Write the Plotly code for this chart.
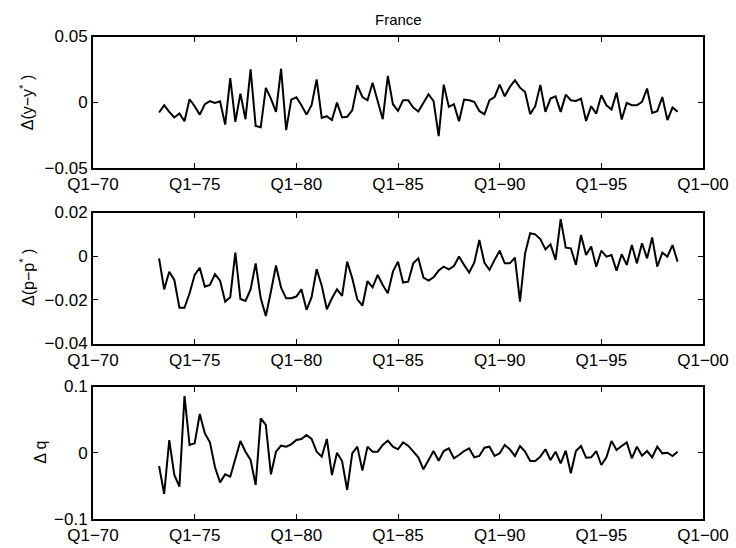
import pandas as pd
import plotly.graph_objects as go

# Quarterly growth differentials, France vs. foreign aggregate, 1973Q2-1998Q4
START_QUARTER = "1973Q2"

d_output = [
    -0.0078, -0.0023, -0.0073, -0.0116, -0.0086, -0.0144, 0.0023, -0.003, -0.0094, -0.0015,
    0.0008, -0.0005, 0.0008, -0.017, 0.0184, -0.0149, 0.0066, -0.0129, 0.025, -0.018,
    -0.019, 0.0109, 0.0028, -0.0073, 0.0255, -0.0212, 0.002, 0.0038, -0.0023, -0.0094,
    -0.0023, 0.0174, -0.0119, -0.0106, -0.0136, -0.0003, -0.0116, -0.011,
    -0.0061, 0.0129, 0.004, 0.0015, 0.0149, 0.0015, -0.0129, 0.02, -0.0015, -0.0066,
    0.0015, 0.0015, -0.004, -0.0071, -0.0005, 0.0061, 0.0008, -0.0258, 0.0134, -0.0035,
    -0.0015, -0.0144, 0.002, 0.0015, 0.0003, -0.0066, -0.0091, 0.0015, 0.004, 0.0134,
    0.0045, 0.0116, 0.0167, 0.0111, 0.0078,
    -0.009, -0.003, 0.0132, -0.0073, 0.0028, 0.0045, -0.0073, 0.0058, 0.0015, 0.001,
    0.0028, -0.0142, -0.003, -0.0086, 0.0053, -0.0023, -0.0056, 0.0073, -0.0131, -0.0005,
    -0.0023, -0.0023, 0.0003, 0.0104, -0.0081, -0.0068, 0.004, -0.0136, -0.004, -0.0073,
]

d_prices = [
    -0.001, -0.0152, -0.0071, -0.0109, -0.0236, -0.0236, -0.017, -0.0086, -0.0053, -0.014,
    -0.0132, -0.0082, -0.0112, -0.0208, -0.0188, 0.0016, -0.0196, -0.0205, -0.0152, -0.0033,
    -0.0193, -0.0274, -0.0162, -0.0043, -0.0144, -0.0193, -0.0193, -0.0185, -0.0152, -0.0246,
    -0.0188, -0.006, -0.0135, -0.0243, -0.0193, -0.0152, -0.0182, -0.0025,
    -0.0101, -0.0198, -0.0227, -0.0114, -0.0143, -0.0086, -0.0132, -0.017, -0.0071, -0.0025,
    -0.0121, -0.0117, -0.0033, -0.001, -0.0098, -0.0112, -0.0097, -0.0066, -0.0048, -0.006,
    -0.0045, -0.0002, -0.004, -0.0075, -0.003, 0.0074, -0.003, -0.0063, -0.0017, 0.0025,
    -0.0033, -0.0033, -0.0007, -0.0208, 0.0013,
    0.0105, 0.01, 0.0078, 0.0031, 0.0054, -0.0017, 0.017, 0.0039, 0.0036, -0.004,
    0.0097, 0.0005, 0.0044, -0.0048, 0.0025, -0.0002, 0.0005, -0.0066, 0.0009, -0.004,
    0.0051, -0.0033, 0.0059, -0.001, 0.0086, -0.0048, 0.0016, -0.0002, 0.0051, -0.0025,
]

d_real_rate = [
    -0.02, -0.0623, 0.0192, -0.0336, -0.0512, 0.0857, 0.0117, 0.0142, 0.0585, 0.0293,
    0.0157, -0.022, -0.0447, -0.0326, -0.0361, -0.0074, 0.0177, 0.0016, -0.0109, -0.0487,
    0.0519, 0.0419, -0.0326, 0.0016, 0.0107, 0.0092, 0.0127, 0.0192, 0.0208, 0.0268,
    0.0208, 0.0016, -0.0059, 0.0208, -0.0336, 0.0001, -0.0125, -0.0562,
    -0.0009, 0.0092, -0.027, 0.0092, 0.0016, 0.0016, 0.0117, 0.0182, 0.0092, 0.0052,
    0.0157, 0.0107, 0.0016, -0.0069, -0.025, -0.0109, 0.0026, -0.012, 0.0026, 0.0067,
    -0.0084, -0.0034, 0.0026, 0.0067, -0.0069, -0.0049, 0.0077, 0.0092, -0.0049, -0.0009,
    0.0117, 0.0052, -0.0049, 0.0102, 0.0016, -0.0125, -0.0125, -0.0059,
    0.0052, -0.011, 0.0016, -0.016, 0.0031, -0.031, 0.0026, 0.0102, -0.0074, -0.0069,
    0.0026, -0.0185, -0.0069, 0.0177, 0.0041, 0.0102, 0.0157, -0.0084, 0.0092, -0.0044,
    0.0026, -0.0069, 0.0092, -0.0009, 0.0001, -0.0049, 0.0016,
]

x_tick_years = [1970, 1975, 1980, 1985, 1990, 1995, 2000]
x_tick_labels = ["Q1\u221270", "Q1\u221275", "Q1\u221280", "Q1\u221285",
                 "Q1\u221290", "Q1\u221295", "Q1\u221200"]

panel_titles = ["\u0394(y\u2212y<sup>*</sup> )", "\u0394(p\u2212p<sup>*</sup> )", "\u0394 q"]
panel_series = [d_output, d_prices, d_real_rate]
panel_ranges = [[-0.05, 0.05], [-0.04, 0.02], [-0.1, 0.1]]
panel_ticks = [[-0.05, 0, 0.05], [-0.04, -0.02, 0, 0.02], [-0.1, 0, 0.1]]

# Decimal-year position of each quarter
periods = pd.period_range(START_QUARTER, periods=len(d_output), freq="Q")
x_years = [p.year + (p.quarter - 1) / 4 for p in periods]

W, H = 736, 548
X_LEFT, X_RIGHT = 93, 703
PANEL_PX = [(36.5, 168), (212.5, 343.5), (386.5, 519)]
LABEL_X_PX = [27, 27, 41]

FONT = "Liberation Sans, Arial, Helvetica, sans-serif"
TICK_SIZE = 17

fig = go.Figure()
layout = dict(
    template="none",
    width=W, height=H,
    margin=dict(l=0, r=0, t=0, b=0, pad=0, autoexpand=False),
    paper_bgcolor="white", plot_bgcolor="white",
    showlegend=False,
    font=dict(family=FONT, size=TICK_SIZE, color="black"),
)

annotations = []
for k, (series, yr, yt, title, (top, bot), lx) in enumerate(
        zip(panel_series, panel_ranges, panel_ticks, panel_titles, PANEL_PX, LABEL_X_PX)):
    sfx = "" if k == 0 else str(k + 1)
    fig.add_trace(go.Scatter(
        x=x_years, y=series, mode="lines",
        line=dict(color="black", width=2),
        xaxis="x" + sfx, yaxis="y" + sfx,
    ))
    axis_common = dict(
        showline=True, linecolor="black", linewidth=2, mirror="ticks",
        ticks="inside", ticklen=5, tickwidth=1, tickcolor="black",
        showgrid=False, zeroline=False, automargin=False,
        tickfont=dict(family=FONT, size=TICK_SIZE, color="black"),
    )
    layout["xaxis" + sfx] = dict(
        axis_common,
        domain=[X_LEFT / W, X_RIGHT / W],
        range=[1970, 2000],
        tickvals=x_tick_years, ticktext=x_tick_labels,
        anchor="y" + sfx,
    )
    layout["yaxis" + sfx] = dict(
        axis_common,
        domain=[1 - bot / H, 1 - top / H],
        range=yr, tickvals=yt,
        anchor="x" + sfx,
    )
    annotations.append(dict(
        text=title, textangle=-90, showarrow=False,
        xref="paper", yref="paper",
        x=lx / W, y=1 - (top + bot) / 2 / H,
        xanchor="center", yanchor="middle",
        font=dict(family=FONT, size=16, color="black"),
    ))

annotations.append(dict(
    text="France", showarrow=False, xref="paper", yref="paper",
    x=(X_LEFT + X_RIGHT) / 2 / W, y=1 - 20 / H,
    xanchor="center", yanchor="middle",
    font=dict(family=FONT, size=15, color="black"),
))
layout["annotations"] = annotations

fig.update_layout(**layout)
fig.write_html("out.html")
